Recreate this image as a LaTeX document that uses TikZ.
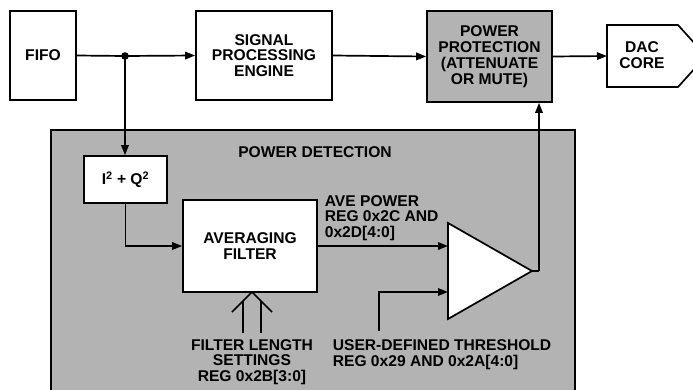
\documentclass[tikz,border=0pt]{standalone}
\usepackage{fontspec}
\setmainfont{Liberation Sans}
\usetikzlibrary{arrows.meta}
\definecolor{pgray}{RGB}{179,179,179}
\newcommand\diaglbl{\bfseries\fontsize{15.6}{15.8}\selectfont}
\begin{document}
\begin{tikzpicture}[x=1pt,y=-1pt,line width=1.7pt,
  box/.style={draw,line width=1.7pt,align=center,inner sep=0pt,font=\diaglbl},
  lbl/.style={align=center,inner sep=0pt,font=\diaglbl},
  arr/.style={-{Triangle[length=10pt,width=7.5pt]}},
  chev/.style={line width=1.7pt,line join=miter}]
\useasboundingbox (0,0) rectangle (693,389);
% power detection container
\draw[fill=pgray] (51,130) rectangle (575,410);
\node[lbl] (pdtitle) at (315,152) {POWER DETECTION};
% top row
\node[box,minimum width=66pt,minimum height=89pt] (fifo) at (43,55.5) {FIFO};
\node[box,minimum width=136pt,minimum height=89pt] (spe) at (264,55.5) {SIGNAL\\PROCESSING\\ENGINE};
\node[box,fill=pgray,minimum width=125pt,minimum height=91pt] (pp) at (489.5,56.5) {POWER\\PROTECTION\\(ATTENUATE\\OR MUTE)};
\draw[fill=white] (607,25) coordinate (dacin0) -- (678,25) -- (706,56) -- (678,87) -- (607,87) -- cycle;
\coordinate (dacin) at (607,56);
\node[lbl] (dac) at (642,55) {DAC\\CORE};
% inner blocks
\node[box,fill=white,minimum width=83pt,minimum height=47pt] (iq) at (125.5,179.5) {I\textsuperscript{2} + Q\textsuperscript{2}};
\node[box,fill=white,minimum width=134pt,minimum height=92pt] (avg) at (250,246) {AVERAGING\\FILTER};
\coordinate (tl) at (448,223);
\coordinate (tb) at (448,319);
\coordinate (tip) at (532,271);
\draw[fill=white,line join=miter] (tl) -- (tip) -- (tb) -- cycle;
% connectors
\coordinate (junc) at (125,56);
\draw (fifo.east) -- (junc);
\draw[arr] (junc) -- (spe.west);
\fill (junc) circle (3.8pt);
\draw[arr] (spe.east) -- (pp.west);
\draw[arr] (pp.east) -- (dacin);
\draw[arr] (junc) -- (junc |- iq.north);
\coordinate (avgin) at (avg.west |- 0,246);
\draw[arr] (iq.south) |- (avgin);
\coordinate (trin) at (448,246);
\draw[arr] (avg.east |- trin) -- (trin);
\coordinate (thrin) at (448,292);
\coordinate (thrst) at (379,331);
\draw[arr] (thrst) |- (thrin);
\coordinate (ppin) at (539,271);
\draw (tip) -- (ppin);
\draw[arr] (ppin) -- (ppin |- pp.south);
% filter length input (double open arrow)
\coordinate (fltip) at (252,292);
\draw[chev] (232,312) -- (fltip) -- (272,312);
\draw (243,333) -- (243,301);
\draw (261,333) -- (261,301);
% labels
\node[lbl,align=left,anchor=west] (avelbl) at (324,218) {AVE POWER\\REG 0x2C AND\\0x2D[4:0]};
\node[lbl] (fllbl) at (252,362) {FILTER LENGTH\\SETTINGS\\REG 0x2B[3:0]};
\node[lbl,align=left,anchor=west] (thrlbl) at (332,355) {USER-DEFINED THRESHOLD\\REG 0x29 AND 0x2A[4:0]};
\end{tikzpicture}
\end{document}
